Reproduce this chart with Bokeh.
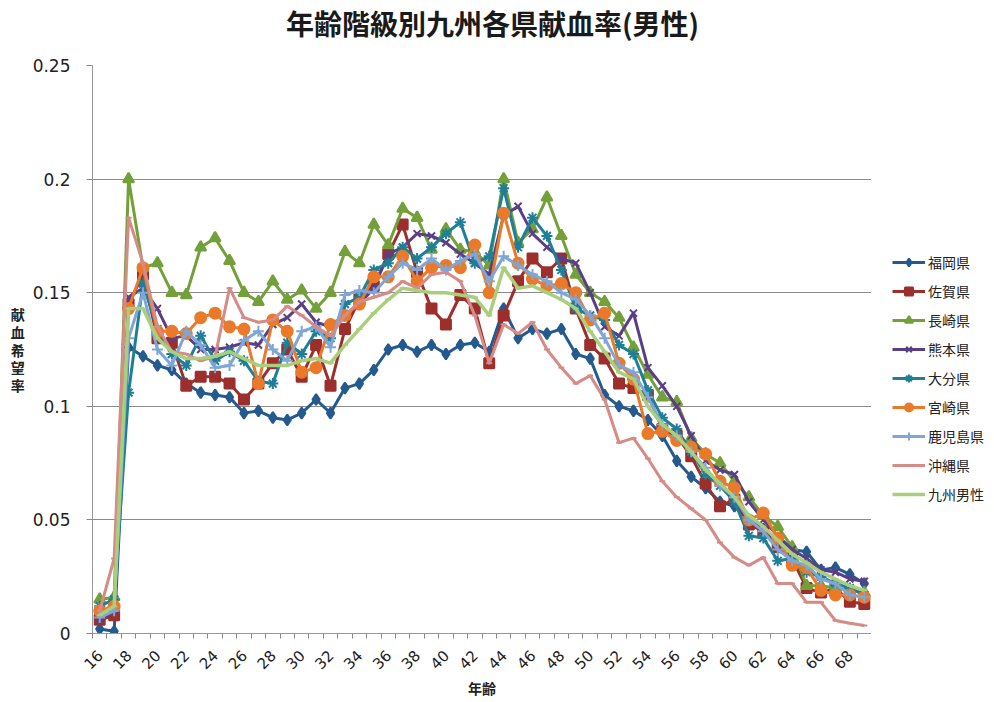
from math import pi
from bokeh.plotting import figure
from bokeh.layouts import row, column
from bokeh.models import Range1d, FixedTicker, Legend, LegendItem, ColumnDataSource, Label
from bokeh.embed import file_html
from bokeh.resources import INLINE

title_text = "年齢階級別九州各県献血率(男性)"
ages = list(range(16, 70))
label_ticks = list(range(16, 70, 2))

fukuoka = [0.002, 0.001, 0.126, 0.122, 0.118, 0.116, 0.110, 0.106, 0.105, 0.104,
           0.097, 0.098, 0.095, 0.094, 0.097, 0.103, 0.097, 0.108, 0.110, 0.116,
           0.125, 0.127, 0.124, 0.127, 0.123, 0.127, 0.128, 0.124, 0.143, 0.130,
           0.134, 0.132, 0.134, 0.123, 0.121, 0.105, 0.100, 0.098, 0.094, 0.087,
           0.076, 0.069, 0.064, 0.058, 0.056, 0.050, 0.046, 0.040, 0.037, 0.036,
           0.028, 0.029, 0.026, 0.022]
saga = [0.006, 0.008, 0.145, 0.158, 0.130, 0.128, 0.109, 0.113, 0.113, 0.110,
        0.103, 0.110, 0.119, 0.125, 0.113, 0.127, 0.109, 0.134, 0.147, 0.153,
        0.167, 0.180, 0.159, 0.143, 0.136, 0.149, 0.143, 0.119, 0.140, 0.155,
        0.165, 0.159, 0.165, 0.143, 0.127, 0.121, 0.110, 0.108, 0.105, 0.090,
        0.087, 0.078, 0.066, 0.056, 0.059, 0.048, 0.045, 0.038, 0.033, 0.020,
        0.018, 0.020, 0.014, 0.013]
nagasaki = [0.015, 0.016, 0.200, 0.161, 0.163, 0.150, 0.149, 0.170, 0.174, 0.164,
            0.150, 0.146, 0.155, 0.147, 0.151, 0.143, 0.150, 0.168, 0.163, 0.180,
            0.171, 0.187, 0.183, 0.169, 0.178, 0.169, 0.168, 0.162, 0.200, 0.172,
            0.178, 0.192, 0.175, 0.158, 0.150, 0.146, 0.139, 0.126, 0.114, 0.104,
            0.102, 0.086, 0.079, 0.075, 0.067, 0.060, 0.052, 0.047, 0.038, 0.021,
            0.021, 0.020, 0.019, 0.018]
kumamoto = [0.006, 0.010, 0.148, 0.152, 0.143, 0.130, 0.131, 0.125, 0.125, 0.126,
            0.128, 0.127, 0.136, 0.139, 0.145, 0.137, 0.135, 0.140, 0.145, 0.152,
            0.167, 0.170, 0.176, 0.175, 0.172, 0.167, 0.163, 0.158, 0.184, 0.188,
            0.176, 0.170, 0.165, 0.163, 0.150, 0.135, 0.131, 0.141, 0.117, 0.109,
            0.100, 0.087, 0.076, 0.072, 0.070, 0.058, 0.050, 0.043, 0.037, 0.033,
            0.028, 0.027, 0.024, 0.023]
oita = [0.012, 0.015, 0.106, 0.154, 0.134, 0.123, 0.118, 0.131, 0.120, 0.124,
        0.120, 0.111, 0.110, 0.128, 0.123, 0.133, 0.130, 0.145, 0.148, 0.160,
        0.163, 0.170, 0.165, 0.170, 0.176, 0.181, 0.163, 0.166, 0.196, 0.170,
        0.183, 0.175, 0.160, 0.143, 0.140, 0.138, 0.127, 0.123, 0.107, 0.095,
        0.090, 0.080, 0.070, 0.065, 0.058, 0.043, 0.042, 0.032, 0.033, 0.027,
        0.025, 0.022, 0.020, 0.017]
miyazaki = [0.010, 0.012, 0.143, 0.161, 0.133, 0.133, 0.132, 0.139, 0.141, 0.135,
            0.134, 0.110, 0.138, 0.133, 0.115, 0.117, 0.136, 0.140, 0.145, 0.157,
            0.157, 0.166, 0.155, 0.161, 0.162, 0.161, 0.171, 0.150, 0.185, 0.163,
            0.156, 0.153, 0.154, 0.150, 0.138, 0.141, 0.119, 0.112, 0.088, 0.089,
            0.085, 0.082, 0.079, 0.067, 0.064, 0.050, 0.053, 0.042, 0.030, 0.029,
            0.019, 0.017, 0.017, 0.016]
kagoshima = [0.007, 0.010, 0.130, 0.150, 0.125, 0.118, 0.133, 0.127, 0.117, 0.118,
             0.129, 0.133, 0.125, 0.120, 0.133, 0.135, 0.126, 0.149, 0.151, 0.150,
             0.157, 0.163, 0.160, 0.165, 0.160, 0.164, 0.167, 0.155, 0.166, 0.162,
             0.158, 0.155, 0.150, 0.147, 0.140, 0.130, 0.118, 0.115, 0.104, 0.092,
             0.087, 0.080, 0.073, 0.065, 0.060, 0.050, 0.045, 0.037, 0.032, 0.030,
             0.024, 0.022, 0.017, 0.016]
okinawa = [0.010, 0.033, 0.183, 0.163, 0.135, 0.124, 0.123, 0.120, 0.122, 0.152,
           0.139, 0.137, 0.138, 0.144, 0.140, 0.135, 0.131, 0.140, 0.146, 0.148,
           0.150, 0.155, 0.152, 0.158, 0.159, 0.155, 0.140, 0.119, 0.136, 0.132,
           0.137, 0.125, 0.117, 0.110, 0.1135, 0.103, 0.084, 0.086, 0.077, 0.067,
           0.060, 0.055, 0.050, 0.040, 0.0335, 0.030, 0.0335, 0.022, 0.022, 0.0137,
           0.0137, 0.0057, 0.0045, 0.0035]
kyushu = [0.008, 0.012, 0.143, 0.143, 0.130, 0.124, 0.121, 0.121, 0.122, 0.124,
          0.121, 0.118, 0.118, 0.118, 0.120, 0.121, 0.119, 0.127, 0.134, 0.141,
          0.147, 0.152, 0.151, 0.150, 0.150, 0.149, 0.148, 0.140, 0.161, 0.152,
          0.153, 0.150, 0.147, 0.143, 0.133, 0.124, 0.115, 0.112, 0.100, 0.092,
          0.087, 0.080, 0.072, 0.066, 0.060, 0.052, 0.047, 0.041, 0.035, 0.031,
          0.027, 0.024, 0.021, 0.019]

series_names = ["福岡県", "佐賀県", "長崎県", "熊本県", "大分県", "宮崎県", "鹿児島県", "沖縄県", "九州男性"]
series_values = [fukuoka, saga, nagasaki, kumamoto, oita, miyazaki, kagoshima, okinawa, kyushu]
series_colors = ["#245a8e", "#9c2f2c", "#74a03a", "#5a3f86", "#1f7f96", "#ea7a2a", "#7ea6d6", "#d58b86", "#a9cf7e"]
series_markers = ["diamond", "square", "triangle", "x", "asterisk", "circle", "cross", "dash", "dash"]
marker_sizes = [11, 10, 11, 10, 11, 11, 11, 6, 6]

TITLE_H = 44

# title strip
tf = figure(width=994, height=TITLE_H, output_backend="svg", toolbar_location=None,
            x_range=Range1d(0, 994), y_range=Range1d(0, TITLE_H),
            x_axis_type=None, y_axis_type=None, min_border=0)
tf.outline_line_color = None
tf.grid.visible = False
tf.add_layout(Label(x=492, y=TITLE_H - 22, text=title_text, text_align="center",
                    text_baseline="middle", text_font="Noto Sans CJK JP",
                    text_font_size="28px", text_font_style="bold", text_color="#1a1a1a"))

p = figure(width=871, height=702 - TITLE_H, output_backend="svg", toolbar_location=None,
           x_range=Range1d(15.5, 69.5), y_range=Range1d(0, 0.25),
           min_border_left=92, min_border_right=0, min_border_top=65 - TITLE_H, min_border_bottom=69)

p.outline_line_color = None
p.background_fill_color = "white"
p.border_fill_color = "white"
p.xgrid.grid_line_color = None
p.ygrid.grid_line_color = "#8a8a8a"
p.ygrid.grid_line_width = 1

p.yaxis.ticker = FixedTicker(ticks=[0, 0.05, 0.1, 0.15, 0.2, 0.25])
p.yaxis.major_label_overrides = {0: "0", 0.05: "0.05", 0.1: "0.1", 0.15: "0.15", 0.2: "0.2", 0.25: "0.25"}
p.yaxis.minor_tick_line_color = None
p.yaxis.major_tick_out = 6
p.yaxis.major_tick_in = 0
p.yaxis.major_tick_line_color = "#888888"
p.yaxis.axis_line_color = "#999999"
p.yaxis.major_label_text_font = "DejaVu Sans"
p.yaxis.major_label_text_font_size = "17px"
p.yaxis.major_label_text_color = "#222222"
p.yaxis.major_label_standoff = 16
p.yaxis.axis_label = "献\n血\n希\n望\n率"
p.yaxis.axis_label_orientation = "horizontal"
p.yaxis.axis_label_text_font = "Noto Sans CJK JP"
p.yaxis.axis_label_text_font_size = "14px"
p.yaxis.axis_label_text_font_style = "bold"
p.yaxis.axis_label_text_color = "#222222"
p.yaxis.axis_label_text_line_height = 0.88
p.yaxis.axis_label_standoff = 5

p.xaxis.ticker = FixedTicker(ticks=label_ticks, minor_ticks=[a - 0.5 for a in ages] + [ages[-1] + 0.5])
p.xaxis.major_tick_line_color = None
p.xaxis.major_tick_out = 5
p.xaxis.minor_tick_line_color = "#888888"
p.xaxis.minor_tick_out = 5
p.xaxis.minor_tick_in = 0
p.xaxis.axis_line_color = "#999999"
p.xaxis.major_label_orientation = pi / 4
p.xaxis.major_label_text_font = "DejaVu Sans"
p.xaxis.major_label_text_font_size = "15px"
p.xaxis.major_label_text_color = "#222222"
p.xaxis.major_label_standoff = 14
p.xaxis.axis_label = "年齢"
p.xaxis.axis_label_text_font = "Noto Sans CJK JP"
p.xaxis.axis_label_text_font_size = "14px"
p.xaxis.axis_label_text_font_style = "bold"
p.xaxis.axis_label_text_color = "#222222"
p.xaxis.axis_label_standoff = 1

# legend panel as a separate narrow figure
pl = figure(width=123, height=702 - TITLE_H, output_backend="svg", toolbar_location=None,
            x_range=Range1d(0, 1), y_range=Range1d(0, 1),
            x_axis_type=None, y_axis_type=None, min_border=0)
pl.outline_line_color = None
pl.background_fill_color = "white"
pl.border_fill_color = "white"

items = []
for name, vals, color, marker, msize in zip(series_names, series_values, series_colors, series_markers, marker_sizes):
    src = ColumnDataSource(dict(x=ages, y=vals))
    lw = 3.5 if name == "九州男性" else 3
    p.line("x", "y", source=src, line_color=color, line_width=lw, line_join="round")
    p.scatter("x", "y", source=src, marker=marker, size=msize,
              fill_color=color, line_color=color, line_width=2)
    # legend-only renderers (hidden), sharing the same source so the legend glyph draws
    l_line = pl.line("x", "y", source=src, line_color=color, line_width=lw, visible=False)
    l_mark = pl.scatter("x", "y", source=src, marker=marker, size=msize,
                        fill_color=color, line_color=color, line_width=2, visible=False)
    items.append(LegendItem(label=name, renderers=[l_line, l_mark]))

legend = Legend(items=items, location=(21, 129), orientation="vertical")
legend.label_text_font = "Noto Sans CJK JP"
legend.label_text_font_size = "14px"
legend.label_text_color = "#222222"
legend.glyph_width = 33
legend.glyph_height = 20
legend.label_height = 20
legend.label_standoff = 3
legend.spacing = 9
legend.padding = 0
legend.margin = 0
legend.border_line_color = None
legend.background_fill_alpha = 0
legend.inactive_fill_alpha = 0
legend.click_policy = "none"
pl.add_layout(legend, "center")

layout = column(tf, row(p, pl, spacing=0), spacing=0)
open("out.html", "w").write(file_html(layout, INLINE))
